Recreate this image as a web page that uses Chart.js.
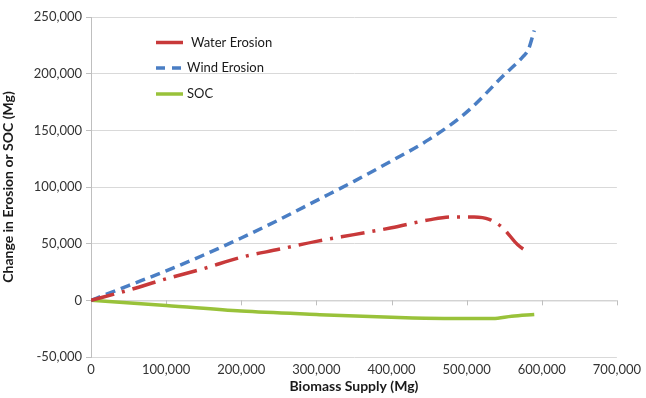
<!DOCTYPE html>
<html>
<head>
<meta charset="utf-8">
<script src="https://cdn.jsdelivr.net/npm/chart.js@4.4.1/dist/chart.umd.min.js"></script>
<style>
    html, body { margin: 0; padding: 0; background: #ffffff; }
    #wrap { width: 646px; height: 398px; position: relative; }
</style>
</head>
<body>
<div id="wrap"><canvas id="erosionChart"></canvas></div>
<script>
// Biomass supply (Mg) vs change in erosion / SOC (Mg)
const seriesNames = ['Water Erosion', 'Wind Erosion', 'SOC'];

const waterX = [0, 50000, 100000, 150000, 200000, 250000, 300000, 350000, 400000, 450000, 480000, 510000, 530000, 548000, 568000, 583000];
const waterY = [0, 9000, 19000, 28000, 38000, 45000, 52000, 58000, 64000, 71000, 73600, 73600, 71500, 64000, 49000, 42000];

const windX = [0, 50000, 100000, 150000, 200000, 250000, 300000, 350000, 400000, 450000, 500000, 550000, 575000, 582000, 590000];
const windY = [0, 13000, 26000, 40000, 55000, 71000, 88000, 105000, 123000, 142000, 166000, 199000, 215000, 221000, 238000];

const socX = [0, 100000, 200000, 300000, 400000, 470000, 535000, 560000, 590000];
const socY = [0, -4500, -9500, -12500, -15000, -16000, -16000, -14000, -12500];

const xTicks = [0, 100000, 200000, 300000, 400000, 500000, 600000, 700000];
const yTicks = [-50000, 0, 50000, 100000, 150000, 200000, 250000];

function toPoints(xs, ys) {
    return xs.map((x, i) => ({ x: x, y: ys[i] }));
}

const fontFamily = "Lato, 'Open Sans', sans-serif";

// Legend drawn inside the plot area, top-left (like the Excel original)
const insideLegend = {
    id: 'insideLegend',
    afterDraw(chart) {
        const ctx = chart.ctx;
        const rows = [42.5, 68, 94];
        ctx.save();
        chart.data.datasets.forEach((ds, i) => {
            const y = rows[i];
            ctx.beginPath();
            ctx.strokeStyle = ds.borderColor;
            ctx.lineWidth = 3.5;
            ctx.setLineDash(i === 1 ? [9, 7] : []);
            ctx.moveTo(156, y);
            ctx.lineTo(183, y);
            ctx.stroke();
            ctx.setLineDash([]);
            ctx.fillStyle = '#1a1a1a';
            ctx.font = '13px ' + fontFamily;
            ctx.textBaseline = 'middle';
            ctx.fillText(ds.label, i === 0 ? 191 : 187, y);
        });
        ctx.restore();
    }
};

// small tick marks on the zero line, where Excel crosses the axes
const zeroTicks = {
    id: 'zeroTicks',
    beforeDatasetsDraw(chart) {
        const ctx = chart.ctx;
        const xs = chart.scales.x;
        const y0 = chart.scales.y.getPixelForValue(0);
        ctx.save();
        ctx.strokeStyle = '#bfbfbf';
        ctx.lineWidth = 1;
        ctx.beginPath();
        ctx.moveTo(chart.chartArea.left, y0 + 0.5);
        ctx.lineTo(chart.chartArea.right, y0 + 0.5);
        xTicks.forEach(v => {
            const px = Math.round(xs.getPixelForValue(v)) + 0.5;
            ctx.moveTo(px, y0);
            ctx.lineTo(px, y0 + 5);
        });
        ctx.stroke();
        ctx.restore();
    }
};

const ctx = document.getElementById('erosionChart').getContext('2d');
new Chart(ctx, {
    type: 'line',
    data: {
        datasets: [{
            label: seriesNames[0],
            data: toPoints(waterX, waterY),
            borderColor: '#c8393a',
            borderWidth: 3.5,
            borderDash: [24, 8, 3, 8],
            pointRadius: 0,
            cubicInterpolationMode: 'monotone'
        }, {
            label: seriesNames[1],
            data: toPoints(windX, windY),
            borderColor: '#4a7ec4',
            borderWidth: 3.5,
            borderDash: [10, 6],
            pointRadius: 0,
            cubicInterpolationMode: 'monotone'
        }, {
            label: seriesNames[2],
            data: toPoints(socX, socY),
            borderColor: '#99c23a',
            borderWidth: 3.5,
            pointRadius: 0,
            cubicInterpolationMode: 'monotone'
        }]
    },
    options: {
        responsive: true,
        maintainAspectRatio: false,
        animation: false,
        layout: { padding: { top: 17, right: 26, left: 0, bottom: 0 } },
        plugins: {
            legend: { display: false },
            tooltip: { enabled: false }
        },
        scales: {
            x: {
                type: 'linear',
                min: 0,
                max: 700000,
                afterBuildTicks: scale => { scale.ticks = xTicks.map(v => ({ value: v })); },
                afterFit: scale => { scale.height = 41; },
                grid: { display: false, drawTicks: false },
                border: { display: false },
                ticks: {
                    padding: 5,
                    color: '#333333',
                    font: { family: fontFamily, size: 13 },
                    maxRotation: 0,
                    callback: v => v.toLocaleString('en-US')
                },
                title: {
                    display: true,
                    text: 'Biomass Supply (Mg)',
                    color: '#1a1a1a',
                    font: { family: fontFamily, size: 14, weight: 'bold' },
                    padding: { top: 0, bottom: 3 }
                }
            },
            y: {
                min: -50000,
                max: 250000,
                afterBuildTicks: scale => { scale.ticks = yTicks.map(v => ({ value: v })); },
                afterFit: scale => { scale.width = 91; },
                grid: {
                    color: ctx => ctx.tick && ctx.tick.value === 0 ? 'rgba(0,0,0,0)' : '#d9d9d9',
                    tickColor: '#bfbfbf',
                    tickLength: 5
                },
                border: { display: true, color: '#bfbfbf' },
                ticks: {
                    padding: 4,
                    color: '#333333',
                    font: { family: fontFamily, size: 13 },
                    callback: v => v.toLocaleString('en-US')
                },
                title: {
                    display: true,
                    text: 'Change in Erosion or SOC (Mg)',
                    color: '#1a1a1a',
                    font: { family: fontFamily, size: 14, weight: 'bold' },
                    padding: { top: 0, bottom: 3 }
                }
            }
        }
    },
    plugins: [zeroTicks, insideLegend]
});
</script>
</body>
</html>
